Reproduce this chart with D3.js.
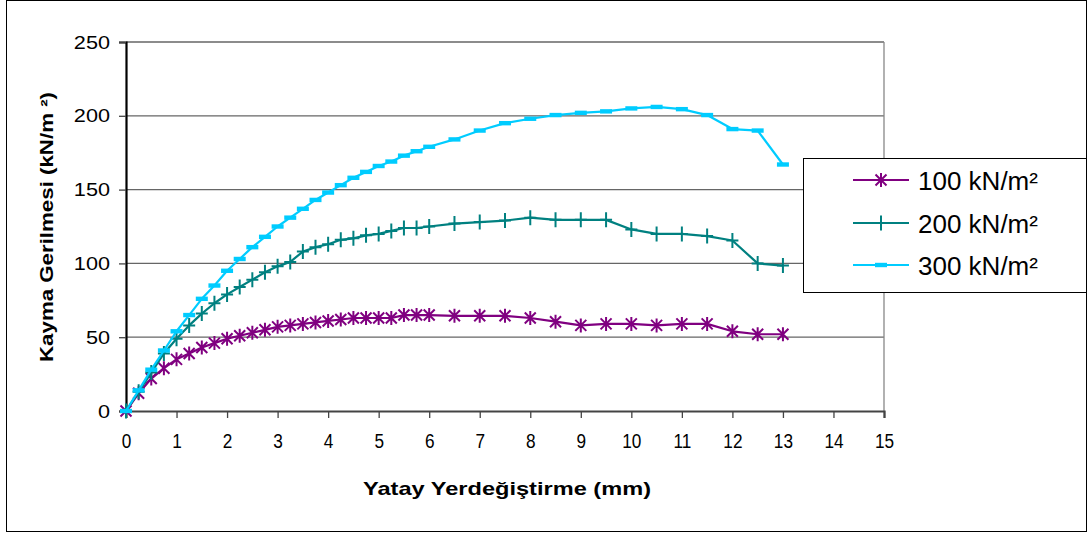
<!DOCTYPE html>
<html>
<head>
<meta charset="utf-8">
<script src="https://cdn.jsdelivr.net/npm/d3@7/dist/d3.min.js"></script>
<style>
  html, body { margin: 0; padding: 0; background: #fff; }
  svg { display: block; font-family: "Liberation Sans", Arial, sans-serif; }
</style>
</head>
<body>
<svg id="chart" width="1089" height="533"></svg>
<script>
// Horizontal displacement (mm)
const displacement = [0, 0.25, 0.5, 0.75, 1, 1.25, 1.5, 1.75, 2, 2.25, 2.5, 2.75, 3, 3.25, 3.5, 3.75,
  4, 4.25, 4.5, 4.75, 5, 5.25, 5.5, 5.75, 6, 6.5, 7, 7.5, 8, 8.5, 9, 9.5, 10, 10.5, 11, 11.5, 12, 12.5, 13];

// Shear stress (kN/m²) for each normal stress
const stress100 = [0, 12, 22, 29, 35, 39, 43, 46, 49, 51, 53, 55, 57, 58, 59, 60,
  61, 62, 63, 63, 63, 63, 65, 65, 65, 64.5, 64.5, 64.5, 63, 60.5, 58, 59, 59, 58, 59, 59, 54, 52, 52];
const stress200 = [0, 13, 26, 39, 49, 58, 66, 73, 79, 84, 89, 94, 98, 101, 108, 111,
  113, 116, 117, 119, 120, 122, 124, 124, 125, 127, 128, 129, 131, 129.5, 129.5, 129.5, 123, 120, 120, 118.5, 115.5, 100, 98.5];
const stress300 = [0, 14, 28, 41, 54, 65, 76, 85, 95, 103, 111, 118, 125, 131, 137, 143,
  148, 153, 158, 162, 166, 169, 173, 176, 179, 184, 190, 195, 198, 200.5, 202, 203, 205, 206, 204.5, 200.5, 191, 190, 167];

const seriesNames = ["100 kN/m²", "200 kN/m²", "300 kN/m²"];
const seriesColors = ["#800080", "#008080", "#00CCFF"];
const seriesMarkers = ["star", "plus", "dash"];

const xTicks = [0, 1, 2, 3, 4, 5, 6, 7, 8, 9, 10, 11, 12, 13, 14, 15];
const yTicks = [0, 50, 100, 150, 200, 250];

const xTitle = "Yatay Yerdeğiştirme (mm)";
const yTitle = "Kayma Gerilmesi (kN/m ²)";

const svg = d3.select("#chart");
const plot = { left: 126, right: 884, top: 42, bottom: 411 };

const x = d3.scaleLinear().domain([0, 15]).range([plot.left, plot.right]);
const y = d3.scaleLinear().domain([0, 250]).range([plot.bottom, plot.top]);

// outer chart border
svg.append("rect")
  .attr("x", 6.5).attr("y", 0.5).attr("width", 1080).attr("height", 531)
  .attr("fill", "#fff").attr("stroke", "#000").attr("stroke-width", 1);

// horizontal gridlines
svg.append("g")
  .selectAll("line")
  .data(yTicks.filter(d => d > 0))
  .join("line")
  .attr("x1", plot.left).attr("x2", plot.right)
  .attr("y1", d => y(d)).attr("y2", d => y(d))
  .attr("stroke", "#666").attr("stroke-width", 1.3);

// right edge of plot area
svg.append("line")
  .attr("x1", plot.right).attr("x2", plot.right)
  .attr("y1", plot.top).attr("y2", plot.bottom)
  .attr("stroke", "#888").attr("stroke-width", 1.3);

// x axis: narrow, tall tick labels
const xAxis = d3.axisBottom(x).tickValues(xTicks).tickSize(7).tickPadding(12).tickFormat(d3.format("d"));
const gx = svg.append("g").attr("transform", `translate(0,${plot.bottom})`).call(xAxis);
gx.select(".domain").attr("stroke", "#444").attr("stroke-width", 2.2);
gx.selectAll(".tick line").attr("stroke", "#444").attr("stroke-width", 1.3);
gx.selectAll(".tick text")
  .attr("font-size", 20).attr("fill", "#000")
  .attr("font-family", "'Liberation Sans', Arial, sans-serif")
  .attr("y", 0).attr("dy", null)
  .attr("transform", "translate(0,37) scale(0.86,1.05)");

// y axis: wide tick labels
const yAxis = d3.axisLeft(y).tickValues(yTicks).tickSize(7).tickPadding(9).tickFormat(d3.format("d"));
const gy = svg.append("g").attr("transform", `translate(${plot.left},0)`).call(yAxis);
gy.select(".domain").attr("stroke", "#000").attr("stroke-width", 2.2);
gy.selectAll(".tick line").attr("stroke", "#444").attr("stroke-width", 1.3);
gy.selectAll(".tick text")
  .attr("font-size", 19).attr("fill", "#000")
  .attr("font-family", "'Liberation Sans', Arial, sans-serif")
  .attr("x", 0)
  .attr("transform", "translate(-16,0) scale(1.14,1)");

// axis titles
svg.append("text")
  .attr("x", 507).attr("y", 495)
  .attr("text-anchor", "middle")
  .attr("font-size", 19).attr("font-weight", "bold")
  .attr("textLength", 288).attr("lengthAdjust", "spacingAndGlyphs")
  .text(xTitle);

svg.append("text")
  .attr("transform", `translate(53,227) rotate(-90)`)
  .attr("text-anchor", "middle")
  .attr("font-size", 18).attr("font-weight", "bold")
  .attr("textLength", 270).attr("lengthAdjust", "spacingAndGlyphs")
  .text(yTitle);

// marker shapes
function drawMarker(g, type, color) {
  if (type === "star") {
    g.append("path")
      .attr("d", "M-5.5,-5.5L5.5,5.5M-5.5,5.5L5.5,-5.5M0,-7L0,7")
      .attr("stroke", color).attr("stroke-width", 2).attr("fill", "none");
  } else if (type === "plus") {
    g.append("path")
      .attr("d", "M-6,0L6,0M0,-7.5L0,7.5")
      .attr("stroke", color).attr("stroke-width", 2).attr("fill", "none");
  } else {
    g.append("rect")
      .attr("x", -6).attr("y", -2.2).attr("width", 12).attr("height", 4.4)
      .attr("fill", color);
  }
}

const allSeries = [stress100, stress200, stress300];
const line = d3.line().x(d => x(d[0])).y(d => y(d[1]));

allSeries.forEach((vals, i) => {
  const pts = displacement.map((d, j) => [d, vals[j]]);
  const g = svg.append("g");
  g.append("path")
    .attr("d", line(pts))
    .attr("fill", "none")
    .attr("stroke", seriesColors[i])
    .attr("stroke-width", 2.2)
    .attr("stroke-linejoin", "round");
  g.selectAll("g.mk")
    .data(pts)
    .join("g")
    .attr("class", "mk")
    .attr("transform", d => `translate(${x(d[0])},${y(d[1])})`)
    .each(function () { drawMarker(d3.select(this), seriesMarkers[i], seriesColors[i]); });
});

// legend
const legend = svg.append("g");
legend.append("rect")
  .attr("x", 803.5).attr("y", 158.5).attr("width", 283).attr("height", 134)
  .attr("fill", "#fff").attr("stroke", "#000").attr("stroke-width", 1);

const legendRows = [180, 223, 265];
seriesNames.forEach((name, i) => {
  const ly = legendRows[i];
  legend.append("line")
    .attr("x1", 853).attr("x2", 909).attr("y1", ly).attr("y2", ly)
    .attr("stroke", seriesColors[i]).attr("stroke-width", 2.2);
  const mg = legend.append("g").attr("transform", `translate(881,${ly})`);
  drawMarker(mg, seriesMarkers[i], seriesColors[i]);
  legend.append("text")
    .attr("x", 918).attr("y", ly + 9.5)
    .attr("font-size", 26)
    .attr("fill", "#000")
    .text(name);
});
</script>
</body>
</html>
